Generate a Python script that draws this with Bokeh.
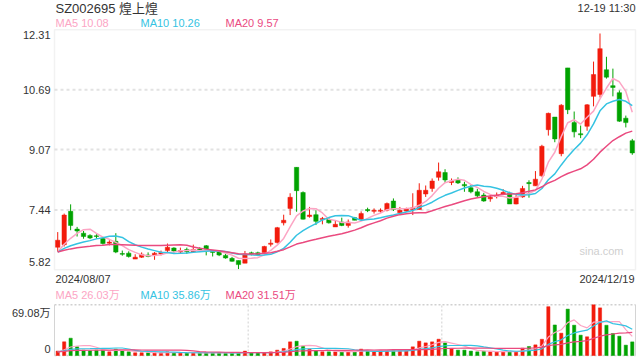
from bokeh.plotting import figure
from bokeh.models import Range1d, Label, BoxAnnotation, ColumnDataSource
from bokeh.embed import file_html
from bokeh.resources import INLINE

# ---------------- data ----------------
opens = [6.43, 6.50, 7.40, 6.92, 6.81, 6.75, 6.74, 6.67, 6.54, 6.59,
         6.26, 6.27, 6.11, 6.16, 6.22, 6.22, 6.25, 6.34, 6.41, 6.30,
         6.37, 6.31, 6.38, 6.47, 6.33, 6.32, 6.21, 6.13, 6.07, 6.00,
         6.28, 6.28, 6.29, 6.51, 6.56, 7.09, 7.48, 8.59, 7.91, 7.26,
         7.31, 7.18, 7.18, 6.98, 7.11, 7.02, 7.23, 7.18, 7.45, 7.40,
         7.40, 7.43, 7.68, 7.36, 7.41, 7.45, 7.45, 7.87, 8.02, 8.32,
         8.45, 8.18, 8.25, 8.13, 8.04, 7.93, 7.84, 7.74, 7.80, 7.86,
         7.89, 7.60, 7.79, 8.18, 8.09, 8.36, 9.61, 9.95, 8.96, 11.28,
         9.80, 9.50, 9.70, 10.51, 10.56, 11.23, 10.80, 10.61, 9.92, 9.31]
closes = [6.62, 7.30, 7.02, 6.87, 6.72, 6.68, 6.72, 6.53, 6.57, 6.30,
          6.24, 6.18, 6.16, 6.24, 6.18, 6.27, 6.29, 6.43, 6.33, 6.34,
          6.31, 6.37, 6.34, 6.38, 6.29, 6.22, 6.14, 6.05, 5.96, 6.25,
          6.25, 6.23, 6.45, 6.54, 6.96, 7.16, 7.78, 7.96, 7.19, 7.30,
          7.13, 7.21, 7.09, 7.05, 7.02, 7.11, 7.16, 7.34, 7.42, 7.43,
          7.43, 7.61, 7.45, 7.43, 7.47, 7.50, 7.97, 7.97, 8.22, 8.47,
          8.25, 8.22, 8.17, 8.09, 7.93, 7.82, 7.68, 7.78, 7.84, 7.91,
          7.60, 7.77, 8.02, 8.15, 8.27, 9.16, 10.05, 9.36, 10.27, 10.15,
          9.55, 9.47, 10.28, 11.10, 11.80, 11.03, 10.75, 9.84, 9.80, 8.98]
highs = [6.84, 7.34, 7.59, 6.98, 6.87, 6.78, 6.80, 6.71, 6.62, 6.81,
         6.34, 6.32, 6.24, 6.29, 6.29, 6.30, 6.34, 6.53, 6.43, 6.42,
         6.42, 6.50, 6.43, 6.49, 6.34, 6.34, 6.25, 6.17, 6.07, 6.33,
         6.31, 6.31, 6.47, 6.64, 6.98, 7.31, 7.89, 8.59, 7.94, 7.52,
         7.43, 7.25, 7.23, 7.16, 7.23, 7.18, 7.25, 7.40, 7.50, 7.48,
         7.48, 7.64, 7.75, 7.52, 7.50, 7.89, 8.16, 8.10, 8.29, 8.72,
         8.54, 8.29, 8.32, 8.20, 8.11, 8.01, 7.90, 7.84, 7.91, 8.00,
         7.93, 7.84, 8.09, 8.24, 8.49, 9.20, 10.07, 9.95, 10.30, 11.28,
         10.10, 9.72, 10.30, 11.45, 12.21, 11.58, 11.26, 10.67, 9.99, 9.36]
lows = [6.30, 6.45, 6.89, 6.72, 6.66, 6.65, 6.66, 6.50, 6.48, 6.27,
        6.20, 6.15, 6.11, 6.14, 6.16, 6.09, 6.21, 6.27, 6.28, 6.25,
        6.25, 6.28, 6.30, 6.21, 6.18, 6.19, 6.12, 6.04, 5.84, 6.00,
        6.21, 6.19, 6.29, 6.45, 6.53, 7.02, 7.30, 7.39, 7.18, 7.23,
        7.03, 7.05, 7.07, 6.98, 7.00, 6.96, 7.16, 7.18, 7.38, 7.34,
        7.36, 7.40, 7.41, 7.34, 7.38, 7.30, 7.45, 7.79, 7.93, 8.23,
        8.17, 8.11, 8.14, 7.93, 7.89, 7.79, 7.66, 7.66, 7.75, 7.84,
        7.60, 7.59, 7.77, 7.77, 8.09, 8.34, 9.45, 9.27, 8.89, 10.03,
        9.40, 9.38, 9.58, 10.24, 10.48, 10.99, 10.51, 9.82, 9.67, 8.93]
# volume in 万 (10k shares)
volumes = [6.0, 18.6, 23.6, 11.8, 7.3, 6.4, 7.3, 7.3, 5.0, 8.7,
           6.4, 5.0, 3.6, 3.7, 3.6, 3.7, 3.6, 5.0, 3.6, 3.7,
           3.6, 3.7, 3.6, 3.6, 3.7, 3.6, 3.6, 3.7, 3.6, 6.0,
           3.6, 3.7, 3.6, 5.0, 7.3, 9.6, 18.6, 19.5, 12.7, 8.7,
           6.4, 5.0, 5.0, 5.0, 5.0, 6.0, 5.0, 8.7, 6.4, 5.0,
           6.4, 6.4, 7.3, 6.4, 6.4, 11.8, 19.5, 17.2, 18.6, 22.2,
           17.2, 9.6, 7.3, 7.3, 6.0, 5.0, 6.0, 5.0, 5.0, 5.0,
           5.5, 5.5, 10.0, 12.3, 14.5, 22.1, 66.5, 41.6, 30.4, 63.2,
           41.3, 27.7, 25.5, 69.08, 64.9, 41.2, 30.0, 26.3, 14.1, 18.55]
# sessions before the window (only used to seed the moving averages)
prior_closes = [6.28, 6.33, 6.30, 6.27, 6.31, 6.32, 6.29, 6.28, 6.30, 6.32,
                6.31, 6.29, 6.33, 6.27, 6.30, 6.25, 6.21, 6.20, 6.22]
prior_volumes = [5.1, 4.6, 5.4, 4.9, 5.0, 4.7, 5.3, 5.2, 4.8, 5.0,
                 4.9, 5.1, 5.4, 4.6, 4.8, 5.2, 4.9, 5.0, 4.7]
price_ticks = [5.82, 7.44, 9.07, 10.69, 12.31]
vol_top = 69.08
start_label = "2024/08/07"
end_label = "2024/12/19"
title_text = "SZ002695 煌上煌"
time_text = "12-19 11:30"
ma_windows = [5, 10, 20]

# ---------------- helpers ----------------
def moving_average(vals, prior, w):
    full = prior + vals
    out = []
    for i in range(len(vals)):
        j = len(prior) + i
        win = full[max(0, j - w + 1): j + 1]
        out.append(sum(win) / len(win))
    return out

n = len(closes)
xs = list(range(n))
UP = "#f21b0c"
DOWN = "#00a300"
colors = [UP if c >= o else DOWN for o, c in zip(opens, closes)]
MA_COLORS = ["#fca5c4", "#35c3e2", "#ea4a7f"]
FONT = "Liberation Sans, Noto Sans CJK SC"
LBL = "#333333"
BORDER = "#d4d4d4"

# ---------------- layout (pixels) ----------------
W, H = 640, 360
PANE_L, PANE_R = 54, 635
PRICE_T, PRICE_B = 29.3, 269.3
VOL_T, VOL_B = 304.3, 355.0

x0, x1 = -0.5, n - 0.5
ymin, ymax = price_ticks[0], price_ticks[-1]

def full_range(lo_val, hi_val, lo_px, hi_px, total):
    # lo_val sits at pixel lo_px and hi_val at hi_px (pixels measured from left/top)
    k = (hi_val - lo_val) / (hi_px - lo_px)
    return lo_val - lo_px * k, lo_val + (total - lo_px) * k

xr = full_range(x0, x1, PANE_L, PANE_R, W)
# y pixels measured downward -> map with negated values
pr = full_range(-ymax, -ymin, PRICE_T, PRICE_B, H)
vr = full_range(-vol_top, 0.0, VOL_T, VOL_B, H)

src = ColumnDataSource(dict(
    x=xs, open=opens, close=closes, high=highs, low=lows, vol=volumes,
    top=[max(o, c) for o, c in zip(opens, closes)],
    bottom=[min(o, c) for o, c in zip(opens, closes)],
    color=colors,
))

p = figure(width=W, height=H,
           x_range=Range1d(*xr), y_range=Range1d(-pr[1], -pr[0]),
           x_axis_type=None, y_axis_type=None, toolbar_location=None,
           output_backend="svg", title=None, min_border=0)
p.extra_y_ranges = {"vol": Range1d(-vr[1], -vr[0])}
p.outline_line_color = None
p.background_fill_color = "white"
p.border_fill_color = "white"

# ---------------- price pane ----------------
p.add_layout(BoxAnnotation(left=x0, right=x1, bottom=ymin, top=ymax,
                           fill_color=None, line_color=BORDER, line_width=1.5,
                           level="underlay"))
mid_ticks = price_ticks[1:-1]
p.segment(x0=[x0] * len(mid_ticks), x1=[x1] * len(mid_ticks), y0=mid_ticks, y1=mid_ticks,
          line_color="#e2e2e2", line_width=2, line_dash="3 3", level="underlay")

p.segment(x0="x", y0="high", x1="x", y1="low", color="color", line_width=1, source=src)
p.vbar(x="x", width=0.68, top="top", bottom="bottom", fill_color="color",
       line_color="color", line_width=0.5, source=src)

price_ma = [moving_average(closes, prior_closes, w) for w in ma_windows]
for vals, col in zip(price_ma, MA_COLORS):
    p.line(xs, vals, line_color=col, line_width=1.5)

def lab(x, y, text, xo=0, yo=0, align="left", color=LBL, size="11px", rng="default"):
    p.add_layout(Label(x=x, y=y, x_offset=xo, y_offset=yo, text=text,
                       text_font=FONT, text_font_size=size, text_color=color,
                       text_baseline="middle", text_align=align, y_range_name=rng))

# header
lab(x0, ymax, title_text, xo=1, yo=21.5, size="13px")
lab(x1, ymax, time_text, xo=0, yo=22, align="right")
legend_offsets = [1, 86, 171]
for w, vals, col, off in zip(ma_windows, price_ma, MA_COLORS, legend_offsets):
    lab(x0, ymax, f"MA{w} {vals[-1]:.2f}", xo=off, yo=6.5, color=col)
# y labels
for t in price_ticks:
    off = -5 if t == ymax else (8 if t == ymin else 0)
    lab(x0, t, f"{t:.2f}", xo=-4, yo=off, align="right")
# date labels + watermark
lab(x0, ymin, start_label, xo=1, yo=-9)
lab(x1, ymin, end_label, xo=-1, yo=-9, align="right")
lab(x1, ymin, "sina.com", xo=-12, yo=19, align="right", color="#cfcfcf")

# ---------------- volume pane ----------------
p.segment(x0=[x0, x1], x1=[x0, x1], y0=[0, 0], y1=[vol_top, vol_top],
          line_color=BORDER, line_width=1, y_range_name="vol", level="underlay")
p.segment(x0=[x0, x0], x1=[x1, x1], y0=[0, vol_top], y1=[0, vol_top],
          line_color="#d0d0d0", line_width=1.5, line_dash="2 2",
          y_range_name="vol", level="underlay")
thirds = [x0 + (x1 - x0) * k / 3 for k in (1, 2)]
p.segment(x0=thirds, x1=thirds, y0=[0, 0], y1=[vol_top, vol_top],
          line_color="#d0d0d0", line_width=1, line_dash="2 2",
          y_range_name="vol", level="underlay")

p.vbar(x="x", width=0.5, top="vol", bottom=0, fill_color="color",
       line_color="color", line_width=0.5, source=src, y_range_name="vol")
vol_ma = [moving_average(volumes, prior_volumes, w) for w in ma_windows]
for vals, col in zip(vol_ma, MA_COLORS):
    p.line(xs, vals, line_color=col, line_width=1.2, y_range_name="vol")

for w, vals, col, off in zip(ma_windows, vol_ma, MA_COLORS, legend_offsets):
    lab(x0, vol_top, f"MA{w} {vals[-1]:.2f}万", xo=off, yo=10, color=col, rng="vol")
lab(x0, vol_top, f"{vol_top:.2f}万", xo=-4, yo=-8, align="right", rng="vol")
lab(x0, 0, "0", xo=-4, yo=7, align="right", rng="vol")

open("out.html", "w").write(file_html(p, INLINE))
